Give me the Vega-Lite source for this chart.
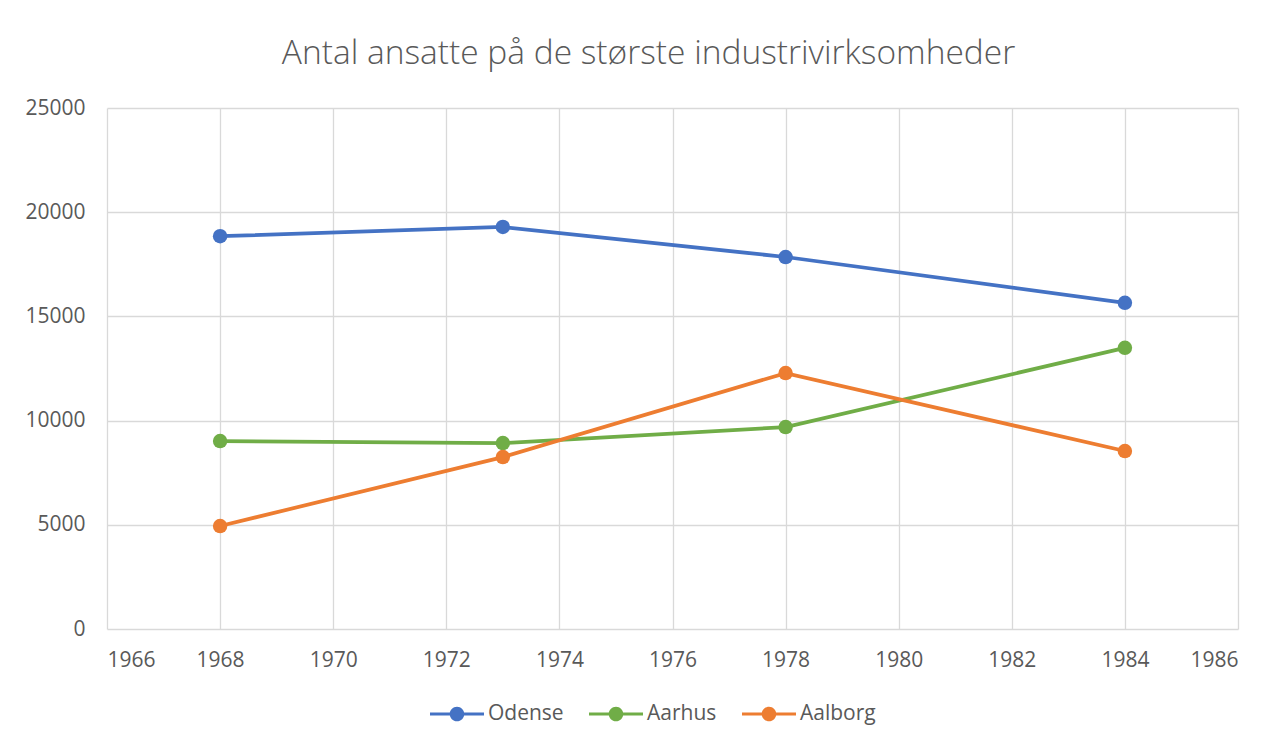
{
  "$schema": "https://vega.github.io/schema/vega-lite/v6.json",
  "autosize": "none",
  "width": 1131,
  "height": 521,
  "padding": {"left": 107, "top": 108, "right": 46, "bottom": 116},
  "background": "white",
  "title": {
    "text": "Antal ansatte på de største industrivirksomheder",
    "font": "Open Sans",
    "fontWeight": 300,
    "fontSize": 33.5,
    "color": "#595959",
    "dx": -24,
    "offset": 26
  },
  "data": {
    "values": [
      {"year": 1968, "city": "Odense", "value": 18850},
      {"year": 1973, "city": "Odense", "value": 19290},
      {"year": 1978, "city": "Odense", "value": 17850},
      {"year": 1984, "city": "Odense", "value": 15650},
      {"year": 1968, "city": "Aarhus", "value": 9020},
      {"year": 1973, "city": "Aarhus", "value": 8920},
      {"year": 1978, "city": "Aarhus", "value": 9690},
      {"year": 1984, "city": "Aarhus", "value": 13490},
      {"year": 1968, "city": "Aalborg", "value": 4940},
      {"year": 1973, "city": "Aalborg", "value": 8250},
      {"year": 1978, "city": "Aalborg", "value": 12280},
      {"year": 1984, "city": "Aalborg", "value": 8540}
    ]
  },
  "encoding": {
    "x": {
      "field": "year",
      "type": "quantitative",
      "scale": {"domain": [1966, 1986], "nice": false, "zero": false},
      "axis": {
        "title": null,
        "values": [1966, 1968, 1970, 1972, 1974, 1976, 1978, 1980, 1982, 1984, 1986],
        "format": "d",
        "grid": true,
        "gridColor": "#d9d9d9",
        "gridWidth": 1.3,
        "domain": false,
        "ticks": false,
        "labelPadding": 20,
        "labelFont": "Open Sans",
        "labelFontSize": 21,
        "labelColor": "#595959"
      }
    },
    "y": {
      "field": "value",
      "type": "quantitative",
      "scale": {"domain": [0, 25000], "nice": false},
      "axis": {
        "title": null,
        "values": [0, 5000, 10000, 15000, 20000, 25000],
        "format": "d",
        "grid": true,
        "gridColor": "#d9d9d9",
        "gridWidth": 1.3,
        "domain": false,
        "ticks": false,
        "labelPadding": 22,
        "labelFont": "Open Sans",
        "labelFontSize": 21,
        "labelColor": "#595959"
      }
    },
    "color": {
      "field": "city",
      "type": "nominal",
      "scale": {"domain": ["Odense", "Aarhus", "Aalborg"], "range": ["#4472C4", "#70AD47", "#ED7D31"]},
      "legend": {
        "title": null,
        "orient": "none",
        "direction": "horizontal",
        "legendX": 323,
        "legendY": 579,
        "symbolType": "M-1,-0.06H1V0.06H-1Z M0.27,0A0.27,0.27 0 1,1 -0.27,0A0.27,0.27 0 1,1 0.27,0Z",
        "symbolSize": 2916,
        "symbolStrokeWidth": 0,
        "symbolOpacity": 1,
        "labelFont": "Open Sans",
        "labelFontSize": 21,
        "labelColor": "#595959",
        "labelOffset": 4,
        "columnPadding": 25
      }
    }
  },
  "layer": [
    {"mark": {"type": "line", "strokeWidth": 3.75}},
    {"mark": {"type": "point", "filled": true, "size": 210, "opacity": 1}}
  ],
  "config": {"view": {"stroke": null}}
}
